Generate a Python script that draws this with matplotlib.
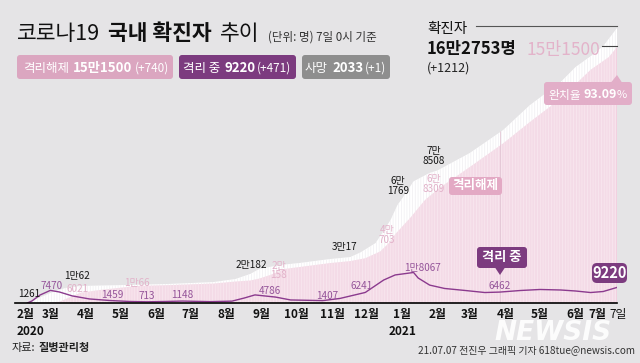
import matplotlib
matplotlib.use("Agg")
import matplotlib.pyplot as plt
import matplotlib.dates as mdates
import pandas as pd
from matplotlib.patches import FancyBboxPatch, Polygon

# 누적 확진자 (명)
confirmed_dates = ["2020-02-11", "2020-02-14", "2020-02-21", "2020-03-01", "2020-03-14",
                   "2020-03-27", "2020-05-09", "2020-06-13", "2020-07-21", "2020-08-09",
                   "2020-08-22", "2020-08-30", "2020-09-17", "2020-10-04", "2020-10-30",
                   "2020-11-17", "2020-11-26", "2020-12-09", "2020-12-13", "2020-12-22",
                   "2020-12-28", "2021-01-01", "2021-01-11", "2021-01-25", "2021-02-01",
                   "2021-03-01", "2021-03-30", "2021-04-22", "2021-05-19", "2021-06-01",
                   "2021-06-14", "2021-06-25", "2021-07-07"]
confirmed = [0, 1261, 3300, 5900, 8900, 10062, 10700, 11300, 12400, 14200,
             17200, 20182, 22500, 23700, 26000, 27200, 30017, 35500, 39600, 49100,
             58000, 61769, 72000, 77000, 78508, 88800, 102400, 117000, 130800, 139700,
             146000, 152000, 162753]

# 누적 격리해제 (명)
released_dates = ["2020-02-11", "2020-03-01", "2020-03-09", "2020-03-20", "2020-03-27",
                  "2020-04-13", "2020-05-15", "2020-06-13", "2020-07-21", "2020-08-09",
                  "2020-08-22", "2020-08-30", "2020-09-08", "2020-09-21", "2020-10-04",
                  "2020-10-30", "2020-11-17", "2020-11-30", "2020-12-13", "2020-12-22",
                  "2020-12-26", "2021-01-08", "2021-01-21", "2021-02-03", "2021-03-01",
                  "2021-03-30", "2021-04-22", "2021-05-19", "2021-06-14", "2021-06-30",
                  "2021-07-07"]
released = [0, 300, 800, 4000, 6021, 7700, 10066, 10600, 11500, 12700,
            13300, 14500, 16500, 20158, 21300, 23600, 24800, 26500, 30500, 36500,
            40703, 50300, 61000, 68309, 80500, 94500, 107000, 121000, 138000, 145600,
            151500]

# 격리 중 (명)
isolated_dates = ["2020-02-10", "2020-02-14", "2020-02-21", "2020-03-01", "2020-03-09",
                  "2020-03-20", "2020-04-04", "2020-04-22", "2020-05-09", "2020-05-24",
                  "2020-06-09", "2020-06-24", "2020-07-18", "2020-08-06", "2020-08-17",
                  "2020-08-26", "2020-09-13", "2020-09-26", "2020-10-24", "2020-11-08",
                  "2020-11-30", "2020-12-16", "2020-12-26", "2021-01-11", "2021-01-15",
                  "2021-01-25", "2021-02-07", "2021-02-25", "2021-03-14", "2021-03-27",
                  "2021-04-14", "2021-05-01", "2021-05-19", "2021-06-01", "2021-06-14",
                  "2021-06-25", "2021-07-07"]
isolated = [0, 1200, 4700, 7470, 6500, 4200, 2400, 1459, 900, 713,
            900, 1148, 800, 1100, 3000, 4786, 3500, 1800, 1407, 2700,
            6241, 13600, 16600, 18067, 14800, 10600, 8600, 7400, 6200, 6462,
            7400, 8000, 7700, 7100, 6200, 6800, 9220]

# 값 라벨 (날짜, 값, 표시)
confirmed_labels = [("2020-02-14", 1261, "1261"), ("2020-03-27", 10062, "1만62"),
                    ("2020-08-30", 20182, "2만182"), ("2020-11-26", 30017, "3만17"),
                    ("2021-01-01", 61769, "6만\n1769"), ("2021-02-01", 78508, "7만\n8508")]
released_labels = [("2020-03-27", 6021, "6021"), ("2020-05-15", 10066, "1만66"),
                   ("2020-09-21", 20158, "2만\n158"), ("2020-12-26", 40703, "4만\n703"),
                   ("2021-02-03", 68309, "6만\n8309")]
isolated_labels = [("2020-03-01", 7470, "7470"), ("2020-04-22", 1459, "1459"),
                   ("2020-05-24", 713, "713"), ("2020-06-24", 1148, "1148"),
                   ("2020-08-26", 4786, "4786"), ("2020-10-24", 1407, "1407"),
                   ("2020-11-30", 6241, "6241"), ("2021-01-11", 18067, "1만8067"),
                   ("2021-03-27", 6462, "6462")]

month_dates = ["2020-02-01", "2020-03-01", "2020-04-01", "2020-05-01", "2020-06-01",
               "2020-07-01", "2020-08-01", "2020-09-01", "2020-10-01", "2020-11-01",
               "2020-12-01", "2021-01-01", "2021-02-01", "2021-03-01", "2021-04-01",
               "2021-05-01", "2021-06-01", "2021-07-01"]
month_labels = ["2월", "3월", "4월", "5월", "6월", "7월", "8월", "9월", "10월", "11월",
                "12월", "1월", "2월", "3월", "4월", "5월", "6월", "7월"]

BG = "#e5e4e6"
PINK_AREA = "#f4dbe7"
PURPLE = "#8b3a8e"

plt.rcParams["font.family"] = ["Noto Sans CJK KR", "DejaVu Sans"]
plt.rcParams["hatch.linewidth"] = 0.5

fig = plt.figure(figsize=(6.4, 3.63), dpi=100, facecolor=BG)
ax = fig.add_axes([15 / 640, 60 / 363, 602 / 640, 275 / 363])
ax.set_facecolor("none")

start = mdates.date2num(pd.Timestamp("2020-02-01"))
end = mdates.date2num(pd.Timestamp("2021-07-07"))
ax.set_xlim(start - 2 * (end - start) / 600, end)
ax.set_ylim(0, max(confirmed))

cd = pd.to_datetime(confirmed_dates)
rd = pd.to_datetime(released_dates)
idt = pd.to_datetime(isolated_dates)

with plt.rc_context({"hatch.color": "#f0eff2"}):
    ax.fill_between(cd, 0, confirmed, facecolor="white", edgecolor="#f0eff2",
                    hatch="||||||", linewidth=0, zorder=1)
with plt.rc_context({"hatch.color": "#f9e9f0"}):
    ax.fill_between(rd, 0, released, facecolor=PINK_AREA, edgecolor="#f9e9f0",
                    hatch="||||||", linewidth=0, zorder=2)
ax.vlines(rd[-1], 0, released[-1], color="#eba3c4", lw=1.0, zorder=3)
ax.vlines(pd.Timestamp("2021-03-27"), 0, 102000, color="#e3c6d4", lw=0.6, zorder=3)
ax.plot(idt, isolated, color=PURPLE, lw=1.0, zorder=4, solid_joinstyle="round")

for s in ["top", "left", "right"]:
    ax.spines[s].set_visible(False)
ax.spines["bottom"].set_linewidth(1.2)
ax.spines["bottom"].set_zorder(6)
ax.set_xticks([])
ax.set_yticks([])

# value labels
c_off = [(-2.2, 5), (-2.2, 7.2), (-5.8, 2.5), (-11.5, 3.5), (-2.9, 9), (-2.9, 10.3)]
r_off = [(-2.2, 2.7), (0, 1.8), (-4.3, -1.2), (-5.8, -0.6), (-4.3, 2.6)]
i_off = [(0.7, 3.5), (1.4, 4), (0, 4.2), (0, 4.4), (10.8, 2.8), (2.9, 3), (-2.9, 4.7),
         (6.5, 3.2), (0, 4.4)]
for labels, offs, col in [(confirmed_labels, c_off, "#151515"),
                          (released_labels, r_off, "#e2b1c9"),
                          (isolated_labels, i_off, "#95559a")]:
    for (d, v, t), (dx, dy) in zip(labels, offs):
        ax.annotate(t, xy=(pd.Timestamp(d), v), xytext=(dx, dy), textcoords="offset points",
                    ha="center", va="center", fontsize=7.2, color=col,
                    linespacing=0.95, zorder=5)

# month labels
for i, (d, lab) in enumerate(zip(month_dates, month_labels)):
    ha = "center"
    dx = 0
    if i == 0:
        ha = "left"
    if i == len(month_dates) - 1:
        ha, dx = "right", -3
    ax.annotate(lab, xy=(pd.Timestamp(d), 0), xytext=(dx, -10.8), textcoords="offset points",
                ha=ha, va="baseline", fontsize=8.5, fontweight="bold", color="#111",
                annotation_clip=False)
ax.annotate("7일", xy=(pd.Timestamp("2021-07-07"), 0), xytext=(1, -10.8),
            textcoords="offset points", ha="center", va="baseline", fontsize=8.5,
            color="#111", annotation_clip=False)
ax.annotate("2020", xy=(pd.Timestamp("2020-02-01"), 0), xytext=(0, -23),
            textcoords="offset points", ha="left", va="baseline", fontsize=8.5,
            fontweight="bold", color="#111", annotation_clip=False)
ax.annotate("2021", xy=(pd.Timestamp("2021-01-01"), 0), xytext=(0, -23),
            textcoords="offset points", ha="center", va="baseline", fontsize=8.5,
            fontweight="bold", color="#111", annotation_clip=False)

# overlay in pixel units
oax = fig.add_axes([0, 0, 1, 1], zorder=5)
oax.set_xlim(0, 640)
oax.set_ylim(363, 0)
oax.axis("off")
oax.patch.set_alpha(0)
renderer = fig.canvas.get_renderer()


def run(x, y, pieces):
    for item in pieces:
        if isinstance(item, (int, float)):
            x += item
            continue
        s, size, weight, color = item
        t = oax.text(x, y, s, fontsize=size, fontweight=weight, color=color,
                     ha="left", va="baseline")
        x += t.get_window_extent(renderer=renderer).width
    return x


def box(x, y, w, h, color, r=3):
    oax.add_patch(FancyBboxPatch((x, y), w, h, boxstyle=f"round,pad=0,rounding_size={r}",
                                 facecolor=color, edgecolor="none"))


# title
run(17, 40.5, [("코로나19", 15.5, "normal", "#111"), 8,
               ("국내 확진자", 15.5, "bold", "#111"), 8,
               ("추이", 15.5, "normal", "#111"), 9,
               ("(단위: 명) 7일 0시 기준", 8.3, "normal", "#333")])

# legend boxes
box(17, 55, 156, 24, "#dba6c0")
run(23, 72, [("격리해제", 9, "normal", "white"), 4, ("15만1500", 9.5, "bold", "white"),
             2, ("(+740)", 8.5, "normal", "white")])
box(179, 55, 117, 24, "#7c3b7f")
run(183, 72, [("격리 중", 9, "normal", "white"), 4, ("9220", 9.5, "bold", "white"),
              2, ("(+471)", 8.5, "normal", "white")])
box(302, 55, 88, 24, "#8e8e8e")
run(305, 72, [("사망", 9, "normal", "white"), 4, ("2033", 9.5, "bold", "white"),
              2, ("(+1)", 8.5, "normal", "white")])

# total confirmed block
oax.text(427, 33, "확진자", fontsize=10.5, color="#111", va="baseline")
oax.plot([476, 617], [26, 26], color="#555", lw=0.8)
oax.text(427, 54, "16만2753명", fontsize=12, fontweight="bold", color="#111", va="baseline")
oax.text(427, 72, "(+1212)", fontsize=9, color="#222", va="baseline")
oax.text(600, 55.5, "15만1500", fontsize=12.5, color="#e3b3ca", ha="right", va="baseline")
oax.plot([602, 617], [45.5, 45.5], color="#444", lw=0.8)

# recovery rate box
box(544, 82, 88, 23, "#e2aec8")
oax.add_patch(Polygon([(611, 82.5), (617, 75), (622, 82.5)], closed=True,
                      facecolor="#e2aec8", edgecolor="none"))
run(548, 98.5, [("완치율", 8.5, "normal", "white"), 3, ("93.09", 9, "bold", "white"),
                ("%", 8, "normal", "white")])

# series tags
box(449, 177, 53, 18, "#e3a9c4")
oax.text(475.5, 186, "격리해제", fontsize=9, fontweight="bold", color="white",
         ha="center", va="center")
box(477, 247, 50, 21, "#7c3b7f")
oax.add_patch(Polygon([(495, 267.5), (500, 275), (505, 267.5)], closed=True,
                      facecolor="#7c3b7f", edgecolor="none"))
oax.text(502, 257.5, "격리 중", fontsize=9.5, fontweight="bold", color="white",
         ha="center", va="center")
box(592, 263, 35, 20, "#7c3b7f", r=5)
oax.text(609.5, 273, "9220", fontsize=10.5, fontweight="bold", color="white",
         ha="center", va="center")

# footer
run(12, 351, [("자료:", 8, "normal", "#222"), 3, ("질병관리청", 8, "bold", "#222")])
oax.text(553, 333, "NEWSIS", fontsize=19, fontweight="bold", fontstyle="italic",
         family="DejaVu Sans", color="white", alpha=0.9, ha="center", va="center")
oax.text(635, 353, "21.07.07 전진우 그래픽 기자 618tue@newsis.com", fontsize=7.2,
         color="#333", ha="right", va="baseline")

fig.savefig("out.png", dpi=100, facecolor=BG)
